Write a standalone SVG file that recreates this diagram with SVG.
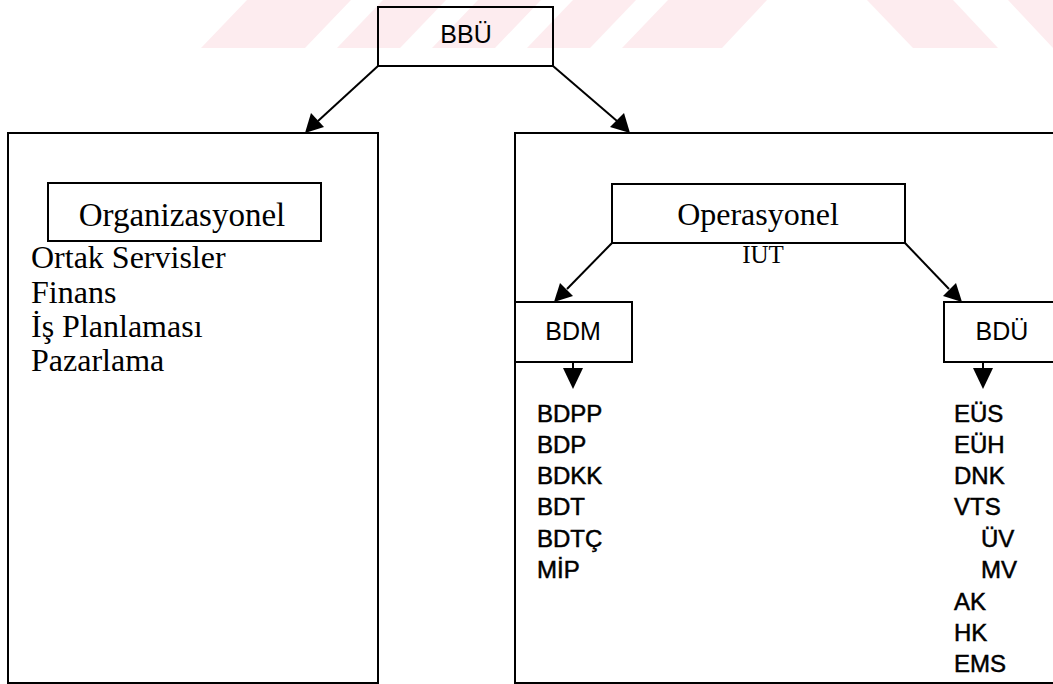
<svg xmlns="http://www.w3.org/2000/svg" width="1053" height="684" viewBox="0 0 1053 684">
<defs>
<style>
.box{fill:none;stroke:#000;stroke-width:2}
.ln{fill:none;stroke:#000;stroke-width:2}
.wm{fill:#fdecef;stroke:none}
.serif{font-family:"Liberation Serif","Times New Roman",serif;font-size:32px;fill:#000}
.sans{font-family:"Liberation Sans",Arial,sans-serif;font-size:25px;fill:#000}
.lst{font-family:"Liberation Sans",Arial,sans-serif;font-size:24px;fill:#000;stroke:#000;stroke-width:0.5}
.head{fill:#000}
</style>
</defs>
<rect width="1053" height="684" fill="#fff"/>
<g id="watermark">
<polygon class="wm" points="201,48 305,48 351,0 247,0"/>
<polygon class="wm" points="337,48 400,48 446,0 383,0"/>
<polygon class="wm" points="432,48 495,48 541,0 478,0"/>
<polygon class="wm" points="527,48 590,48 636,0 573,0"/>
<polygon class="wm" points="622,48 722,48 767,0 668,0"/>
<polygon class="wm" points="913,48 998,48 953,0 867,0"/>
<polygon class="wm" points="1053,48 1053,0 1008,0"/>
</g>
<g id="connectors">
<path d="M378,66 L318,121" class="ln"/>
<polygon class="head" points="305,133 311,113 324,127"/>
<path d="M553,66 L617,121" class="ln"/>
<polygon class="head" points="630,133 610,127 624,113"/>
<path d="M612,243 L567,289" class="ln"/>
<polygon class="head" points="554,302 560,283 573,296"/>
<path d="M905,243 L949,289" class="ln"/>
<polygon class="head" points="962,302 943,296 956,283"/>
<path d="M573,362 L573,370" class="ln"/>
<polygon class="head" points="563,368 583,368 573,389"/>
<path d="M983,362 L983,370" class="ln"/>
<polygon class="head" points="973,368 993,368 983,389"/>
</g>
<g id="node-bbu">
<rect class="box" x="378" y="7" width="175" height="59"/>
<text class="sans" x="466" y="43" text-anchor="middle">BBÜ</text>
</g>
<g id="node-left-panel">
<path class="box" d="M8,683 L8,133 L378,133 L378,683 Z"/>
</g>
<g id="node-organizasyonel">
<rect class="box" x="48" y="183" width="273" height="58"/>
<text class="serif" x="182" y="226" text-anchor="middle" style="font-size:33px">Organizasyonel</text>
<text class="serif" x="31" y="268">Ortak Servisler</text>
<text class="serif" x="31" y="303">Finans</text>
<text class="serif" x="31" y="337">İş Planlaması</text>
<text class="serif" x="31" y="371">Pazarlama</text>
</g>
<g id="node-right-panel">
<path class="box" d="M1060,133 L515,133 L515,683 L1060,683"/>
</g>
<g id="node-operasyonel">
<rect class="box" x="612" y="184" width="293" height="59"/>
<text class="serif" x="758" y="225" text-anchor="middle">Operasyonel</text>
<text class="serif" x="763" y="263" text-anchor="middle" style="font-size:25px">IUT</text>
</g>
<g id="node-bdm">
<rect class="box" x="515" y="302" width="117" height="60"/>
<text class="sans" x="573" y="340" text-anchor="middle">BDM</text>
<text class="lst" x="537" y="422">BDPP</text>
<text class="lst" x="537" y="453">BDP</text>
<text class="lst" x="537" y="484">BDKK</text>
<text class="lst" x="537" y="515">BDT</text>
<text class="lst" x="537" y="547">BDTÇ</text>
<text class="lst" x="537" y="578">MİP</text>
</g>
<g id="node-bdu">
<rect class="box" x="944" y="302" width="120" height="60"/>
<text class="sans" x="1002" y="340" text-anchor="middle">BDÜ</text>
<text class="lst" x="954" y="422">EÜS</text>
<text class="lst" x="954" y="453">EÜH</text>
<text class="lst" x="954" y="484">DNK</text>
<text class="lst" x="954" y="515">VTS</text>
<text class="lst" x="981" y="547">ÜV</text>
<text class="lst" x="981" y="578">MV</text>
<text class="lst" x="954" y="610">AK</text>
<text class="lst" x="954" y="641">HK</text>
<text class="lst" x="954" y="672">EMS</text>
</g>
</svg>
